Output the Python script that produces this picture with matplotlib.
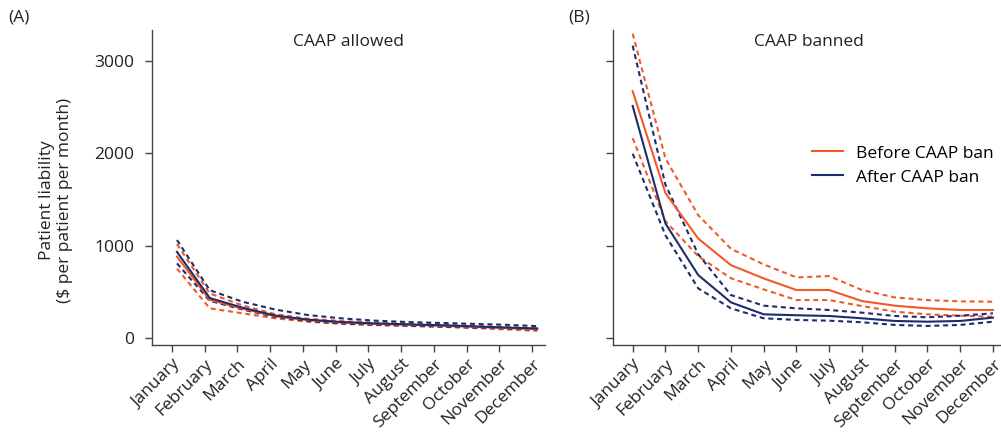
import matplotlib
matplotlib.use("Agg")
import matplotlib.pyplot as plt
import matplotlib.transforms as mtransforms
import numpy as np

plt.rcParams['font.family'] = ['Open Sans', 'DejaVu Sans']

months = ["January", "February", "March", "April", "May", "June", "July",
          "August", "September", "October", "November", "December"]

# Panel A: CAAP allowed
a_before = [880, 410, 315, 232, 190, 165, 150, 140, 130, 118, 105, 90]
a_before_hi = [1015, 480, 350, 255, 205, 180, 162, 150, 140, 128, 115, 100]
a_before_lo = [750, 318, 264, 210, 173, 150, 138, 128, 118, 105, 90, 75]
a_after = [931, 430, 325, 240, 195, 170, 155, 145, 135, 123, 110, 100]
a_after_hi = [1060, 515, 390, 305, 245, 210, 185, 170, 160, 150, 140, 125]
a_after_lo = [806, 400, 305, 225, 180, 155, 140, 130, 120, 110, 100, 85]

# Panel B: CAAP banned
b_before = [2675, 1570, 1076, 787, 643, 517, 517, 397, 347, 318, 300, 300]
b_before_hi = [3300, 1945, 1330, 965, 795, 654, 668, 517, 437, 408, 394, 390]
b_before_lo = [2165, 1264, 885, 645, 524, 408, 408, 343, 282, 253, 238, 227]
b_after = [2515, 1239, 680, 383, 253, 243, 235, 210, 181, 173, 181, 217]
b_after_hi = [3170, 1660, 906, 462, 347, 318, 300, 271, 235, 221, 238, 264]
b_after_lo = [1997, 1112, 535, 318, 210, 192, 184, 167, 138, 127, 138, 173]

yticks = [0, 1000, 2000, 3000]

ORANGE = "#f05a28"
NAVY = "#1c2d6b"
SPINE = "#444444"
TXT = "#222222"
FS = 12.5

W, H = 1001, 434
fig = plt.figure(figsize=(W / 100, H / 100), dpi=100)

def axrect(x0, x1, y0, y1):
    return [x0 / W, 1 - y1 / H, (x1 - x0) / W, (y1 - y0) / H]

axA = fig.add_axes(axrect(152, 545, 30, 345))
axB = fig.add_axes(axrect(612.7, 1005.7, 30, 345))

x = np.arange(len(months))
dash = (0, (2.4, 1.8))

def draw(ax, before, bhi, blo, after, ahi, alo, shift_px=0):
    tr = ax.transData
    if shift_px:
        tr = ax.transData + mtransforms.ScaledTranslation(shift_px / 100, 0, fig.dpi_scale_trans)
    ax.plot(x, bhi, color=ORANGE, lw=1.5, ls=dash, transform=tr)
    ax.plot(x, blo, color=ORANGE, lw=1.5, ls=dash, transform=tr)
    ax.plot(x, ahi, color=NAVY, lw=1.5, ls=dash, transform=tr)
    ax.plot(x, alo, color=NAVY, lw=1.5, ls=dash, transform=tr)
    l1, = ax.plot(x, before, color=ORANGE, lw=1.5, transform=tr, label="Before CAAP ban")
    l2, = ax.plot(x, after, color=NAVY, lw=1.5, transform=tr, label="After CAAP ban")
    ax.set_xlim(-0.61, 11.39)
    ax.set_ylim(-80, 3340)
    ax.set_xticks(x)
    ax.set_xticklabels(months, rotation=45, ha="right", rotation_mode="anchor",
                       fontsize=FS, color=TXT)
    ax.set_yticks(yticks)
    ax.tick_params(axis="both", direction="out", length=5, width=1, color=SPINE,
                   labelsize=FS, labelcolor=TXT)
    ax.tick_params(axis="y", pad=8)
    ax.tick_params(axis="x", pad=3)
    for s in ["top", "right"]:
        ax.spines[s].set_visible(False)
    for s in ["left", "bottom"]:
        ax.spines[s].set_color(SPINE)
        ax.spines[s].set_linewidth(1)
    return l1, l2

draw(axA, a_before, a_before_hi, a_before_lo, a_after, a_after_hi, a_after_lo, shift_px=5)
l1, l2 = draw(axB, b_before, b_before_hi, b_before_lo, b_after, b_after_hi, b_after_lo)
axB.set_yticklabels([])

axA.text(0.5, 1 - (42 - 30) / 315, "CAAP allowed", transform=axA.transAxes,
         ha="center", va="center", fontsize=FS, color=TXT)
axB.text(0.5, 1 - (42 - 30) / 315, "CAAP banned", transform=axB.transAxes,
         ha="center", va="center", fontsize=FS, color=TXT)

axB.legend(handles=[l1, l2], loc="center left", bbox_to_anchor=(0.49, 0.57),
           frameon=False, fontsize=FS, handlelength=1.75, handletextpad=0.75,
           labelspacing=0.45, borderaxespad=0)

fig.text(8 / W, 1 - 18 / H, "(A)", ha="left", va="center", fontsize=FS, color=TXT)
fig.text(568 / W, 1 - 18 / H, "(B)", ha="left", va="center", fontsize=FS, color=TXT)

fig.text(56 / W, 1 - 200 / H, "Patient liability\n($ per patient per month)",
         rotation=90, ha="center", va="center", multialignment="center",
         fontsize=FS, color=TXT, linespacing=1.2)

fig.savefig("out.png", dpi=100)
